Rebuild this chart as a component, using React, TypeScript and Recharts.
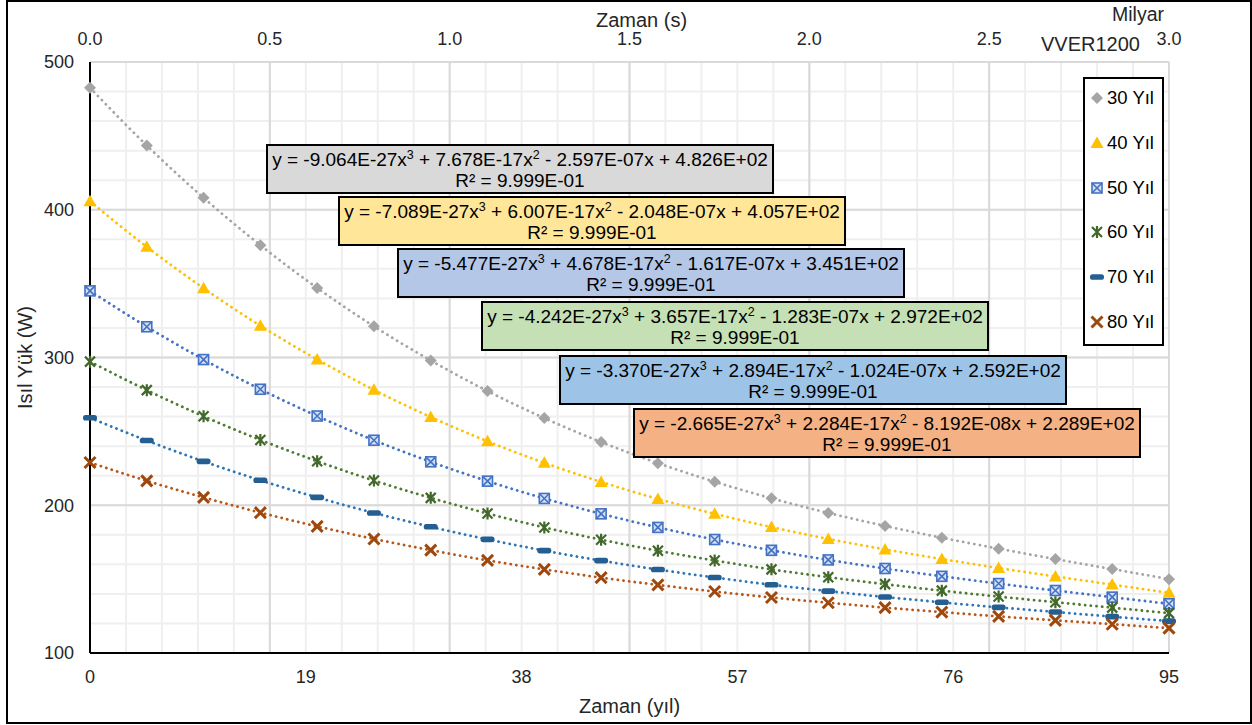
import React from 'react';
import { LineChart, Line, XAxis, YAxis, CartesianGrid, Legend } from 'recharts';

const FONT = '"Liberation Sans", Arial, Helvetica, sans-serif';
const TEXT = '#262626';

// ---- data ----
const years = [0, 5, 10, 15, 20, 25, 30, 35, 40, 45, 50, 55, 60, 65, 70, 75, 80, 85, 90, 95];
const heat30 = [482.6, 443.5, 408.1, 376.0, 347.1, 321.1, 298.0, 277.3, 259.0, 242.8, 228.5, 215.9, 204.7, 194.8, 186.0, 178.0, 170.6, 163.6, 156.8, 150.0];
const heat40 = [405.7, 374.9, 346.9, 321.5, 298.7, 278.1, 259.7, 243.3, 228.7, 215.8, 204.3, 194.2, 185.2, 177.2, 170.1, 163.6, 157.5, 151.8, 146.3, 140.7];
const heat50 = [345.1, 320.8, 298.6, 278.5, 260.4, 244.0, 229.4, 216.3, 204.6, 194.2, 185.0, 176.8, 169.5, 163.0, 157.2, 151.9, 147.0, 142.3, 137.8, 133.3];
const heat60 = [297.2, 277.9, 260.2, 244.2, 229.8, 216.7, 205.0, 194.4, 185.0, 176.7, 169.2, 162.6, 156.6, 151.3, 146.6, 142.2, 138.2, 134.4, 130.7, 127.0];
const heat70 = [259.2, 243.8, 229.7, 216.9, 205.3, 194.8, 185.4, 176.9, 169.3, 162.5, 156.5, 151.1, 146.2, 141.9, 137.9, 134.3, 130.9, 127.8, 124.6, 121.6];
const heat80 = [228.9, 216.5, 205.3, 195.0, 185.7, 177.2, 169.6, 162.7, 156.6, 151.0, 146.1, 141.6, 137.6, 134.0, 130.7, 127.7, 124.8, 122.1, 119.5, 116.8];

const seriesNames = ['30 Yıl', '40 Yıl', '50 Yıl', '60 Yıl', '70 Yıl', '80 Yıl'];
const seriesKeys = ['s30', 's40', 's50', 's60', 's70', 's80'];
const seriesValues = [heat30, heat40, heat50, heat60, heat70, heat80];

// axis: 95 years == 3.0 milyar seconds
const YEARS_MAX = 95;
const GS_MAX = 3;
const bottomTicks = [0, 19, 38, 57, 76, 95];
const topTicksGs = [0, 0.5, 1, 1.5, 2, 2.5, 3];
const minorXGs = [0, 0.1, 0.2, 0.3, 0.4, 0.5, 0.6, 0.7, 0.8, 0.9, 1, 1.1, 1.2, 1.3, 1.4, 1.5, 1.6, 1.7, 1.8, 1.9, 2, 2.1, 2.2, 2.3, 2.4, 2.5, 2.6, 2.7, 2.8, 2.9, 3];
const yTicks = [100, 200, 300, 400, 500];
const minorYValues = [100, 120, 140, 160, 180, 200, 220, 240, 260, 280, 300, 320, 340, 360, 380, 400, 420, 440, 460, 480, 500];

const gsToYears = (g: number) => (g * YEARS_MAX) / GS_MAX;
const topTicks = topTicksGs.map(gsToYears);
const minorXValues = minorXGs.map(gsToYears);

const equations = [
  ['-9.064E-27', '7.678E-17', '- 2.597E-07', '4.826E+02'],
  ['-7.089E-27', '6.007E-17', '- 2.048E-07', '4.057E+02'],
  ['-5.477E-27', '4.678E-17', '- 1.617E-07', '3.451E+02'],
  ['-4.242E-27', '3.657E-17', '- 1.283E-07', '2.972E+02'],
  ['-3.370E-27', '2.894E-17', '- 1.024E-07', '2.592E+02'],
  ['-2.665E-27', '2.284E-17', '- 8.192E-08', '2.289E+02'],
];
const rSquared = ['9.999E-01', '9.999E-01', '9.999E-01', '9.999E-01', '9.999E-01', '9.999E-01'];

// ---- styles ----
const seriesStyle = [
  { kind: 'diamond', marker: '#a5a5a5', line: '#a5a5a5' },
  { kind: 'triangle', marker: '#ffc000', line: '#ffc000' },
  { kind: 'boxx', marker: '#4472c4', line: '#4472c4' },
  { kind: 'star', marker: '#43682b', line: '#4f7a32' },
  { kind: 'dash', marker: '#255e91', line: '#2f75b5' },
  { kind: 'x', marker: '#9e480e', line: '#b8561a' },
];
const eqBoxes = [
  { left: 266, top: 144, bg: '#d9d9d9' },
  { left: 338, top: 196, bg: '#ffe699' },
  { left: 397, top: 248, bg: '#b4c7e7' },
  { left: 481, top: 301, bg: '#c5e0b4' },
  { left: 559, top: 355, bg: '#9dc3e6' },
  { left: 633, top: 408, bg: '#f4b183' },
];

const rows = years.map((t, i) => {
  const r: Record<string, number> = { t };
  seriesKeys.forEach((k, j) => { r[k] = seriesValues[j][i]; });
  return r;
});

function Marker({ kind, cx, cy, color }: { kind: string; cx: number; cy: number; color: string }) {
  switch (kind) {
    case 'diamond':
      return <path d={`M${cx},${cy - 6} L${cx + 6},${cy} L${cx},${cy + 6} L${cx - 6},${cy} Z`} fill={color} />;
    case 'triangle':
      return <path d={`M${cx},${cy - 6.5} L${cx + 6.5},${cy + 5} L${cx - 6.5},${cy + 5} Z`} fill={color} />;
    case 'boxx':
      return (
        <g>
          <rect x={cx - 5} y={cy - 5} width={10} height={10} fill="#d5e0f4" stroke={color} strokeWidth={1.6} />
          <path d={`M${cx - 5},${cy - 5} L${cx + 5},${cy + 5} M${cx + 5},${cy - 5} L${cx - 5},${cy + 5}`} stroke={color} strokeWidth={1.6} />
        </g>
      );
    case 'star':
      return (
        <path
          d={`M${cx - 5},${cy - 5} L${cx + 5},${cy + 5} M${cx + 5},${cy - 5} L${cx - 5},${cy + 5} M${cx},${cy - 6} L${cx},${cy + 6}`}
          stroke={color}
          strokeWidth={2.2}
        />
      );
    case 'dash':
      return <rect x={cx - 7} y={cy - 2.8} width={14} height={5.6} rx={2.6} fill={color} />;
    default:
      return (
        <path
          d={`M${cx - 5.5},${cy - 5.5} L${cx + 5.5},${cy + 5.5} M${cx + 5.5},${cy - 5.5} L${cx - 5.5},${cy + 5.5}`}
          stroke={color}
          strokeWidth={3}
        />
      );
  }
}

const renderLegend = () => (
  <div
    style={{
      position: 'relative',
      width: 81,
      height: 269,
      border: '2px solid #000',
      boxSizing: 'border-box',
      background: '#fff',
      fontFamily: FONT,
    }}
  >
    {seriesNames.map((name, i) => (
      <div
        key={name}
        style={{
          position: 'absolute',
          left: 4,
          top: 19 + i * 44.8 - 11,
          height: 22,
          display: 'flex',
          alignItems: 'center',
          whiteSpace: 'nowrap',
        }}
      >
        <svg width={16} height={16} style={{ display: 'block' }}>
          <Marker kind={seriesStyle[i].kind} cx={8} cy={8} color={seriesStyle[i].marker} />
        </svg>
        <span style={{ marginLeft: 2, fontSize: 18.5, color: '#000', lineHeight: '22px' }}>{name}</span>
      </div>
    ))}
  </div>
);

const tickStyle = { fontSize: 18, fill: TEXT, fontFamily: FONT };

export default function App() {
  return (
    <div style={{ position: 'absolute', left: 0, top: 0, width: 1252, height: 725, background: '#fff', fontFamily: FONT }}>
      <LineChart width={1252} height={725} data={rows} margin={{ top: 0, right: 83, bottom: 0, left: 0 }}>
        <CartesianGrid
          xAxisId="gs"
          yAxisId="main"
          verticalValues={minorXValues}
          horizontalValues={minorYValues}
          stroke="#efefef"
          strokeWidth={2}
        />
        <CartesianGrid xAxisId="gs" yAxisId="main" stroke="#d9d9d9" strokeWidth={2} />
        <XAxis
          xAxisId="yr"
          dataKey="t"
          type="number"
          domain={[0, YEARS_MAX]}
          ticks={bottomTicks}
          interval={0}
          orientation="bottom"
          height={72}
          axisLine={{ stroke: '#000', strokeWidth: 2 }}
          tickLine={false}
          tickSize={6}
          tickMargin={11}
          tick={tickStyle}
          label={{ value: 'Zaman (yıl)', position: 'insideBottom', offset: 12, style: { fontSize: 20, fill: TEXT, fontFamily: FONT } }}
        />
        <XAxis
          xAxisId="marks"
          dataKey="t"
          type="number"
          domain={[0, YEARS_MAX]}
          allowDataOverflow
          ticks={bottomTicks}
          interval={0}
          orientation="top"
          height={0}
          axisLine={{ stroke: '#000', strokeWidth: 2 }}
          tickLine={{ stroke: '#000', strokeWidth: 2 }}
          tickSize={5}
          tick={false}
        />
        <XAxis
          xAxisId="gs"
          dataKey="t"
          type="number"
          domain={[0, YEARS_MAX]}
          allowDataOverflow
          ticks={topTicks}
          interval={0}
          orientation="top"
          height={62}
          axisLine={false}
          tickLine={false}
          tickSize={6}
          tickMargin={11}
          tick={tickStyle}
          tickFormatter={(v: number) => ((v * GS_MAX) / YEARS_MAX).toFixed(1)}
          label={{ value: 'Zaman (s)', position: 'insideTop', offset: 13, dx: 12, style: { fontSize: 20, fill: TEXT, fontFamily: FONT } }}
        />
        <YAxis
          yAxisId="main"
          type="number"
          domain={[100, 500]}
          allowDataOverflow
          ticks={yTicks}
          interval={0}
          width={90}
          axisLine={{ stroke: '#000', strokeWidth: 2 }}
          tickLine={false}
          tickSize={6}
          tickMargin={10}
          tick={tickStyle}
          label={{ value: 'Isıl Yük (W)', angle: -90, position: 'insideLeft', offset: 25, style: { textAnchor: 'middle', fontSize: 20, fill: TEXT, fontFamily: FONT } }}
        />
        <YAxis
          yAxisId="right"
          orientation="right"
          type="number"
          domain={[100, 500]}
          allowDataOverflow
          width={0}
          axisLine={{ stroke: '#000', strokeWidth: 2 }}
          tickLine={false}
          tick={false}
        />
        <Legend
          layout="vertical"
          align="center"
          verticalAlign="middle"
          content={renderLegend}
          wrapperStyle={{ left: 1083, top: 77, width: 81, height: 269 }}
        />
        {seriesKeys.map((k, i) => (
          <Line
            key={k}
            xAxisId="yr"
            yAxisId="main"
            dataKey={k}
            name={seriesNames[i]}
            type="monotone"
            stroke={seriesStyle[i].line}
            strokeWidth={2.8}
            strokeDasharray="0.1 5.6"
            strokeLinecap="round"
            isAnimationActive={false}
            activeDot={false}
            dot={(p: any) => (
              <Marker key={`${k}-${p.index}`} kind={seriesStyle[i].kind} cx={p.cx} cy={p.cy} color={seriesStyle[i].marker} />
            )}
          />
        ))}
      </LineChart>

      {eqBoxes.map((b, i) => (
        <div
          key={i}
          style={{
            position: 'absolute',
            left: b.left,
            top: b.top,
            width: 508,
            height: 50,
            background: b.bg,
            border: '2px solid #000',
            boxSizing: 'border-box',
            textAlign: 'center',
            fontSize: 19,
            lineHeight: '21px',
            paddingTop: 3,
            color: '#000',
            whiteSpace: 'nowrap',
          }}
        >
          <div>
            y = {equations[i][0]}x<sup style={{ fontSize: 12.5, verticalAlign: 'super', lineHeight: 0 }}>3</sup> + {equations[i][1]}x
            <sup style={{ fontSize: 12.5, verticalAlign: 'super', lineHeight: 0 }}>2</sup> {equations[i][2]}x + {equations[i][3]}
          </div>
          <div>R² = {rSquared[i]}</div>
        </div>
      ))}

      <div style={{ position: 'absolute', left: 1100, top: 3, width: 64, textAlign: 'right', fontSize: 19.5, color: TEXT, lineHeight: '22px' }}>
        Milyar
      </div>
      <div style={{ position: 'absolute', left: 1000, top: 33, width: 140, textAlign: 'right', fontSize: 20, color: TEXT, lineHeight: '22px' }}>
        VVER1200
      </div>

      <div
        style={{
          position: 'absolute',
          left: 6,
          top: 0,
          width: 1246,
          height: 724,
          border: '2px solid #000',
          boxSizing: 'border-box',
          pointerEvents: 'none',
        }}
      />
    </div>
  );
}
